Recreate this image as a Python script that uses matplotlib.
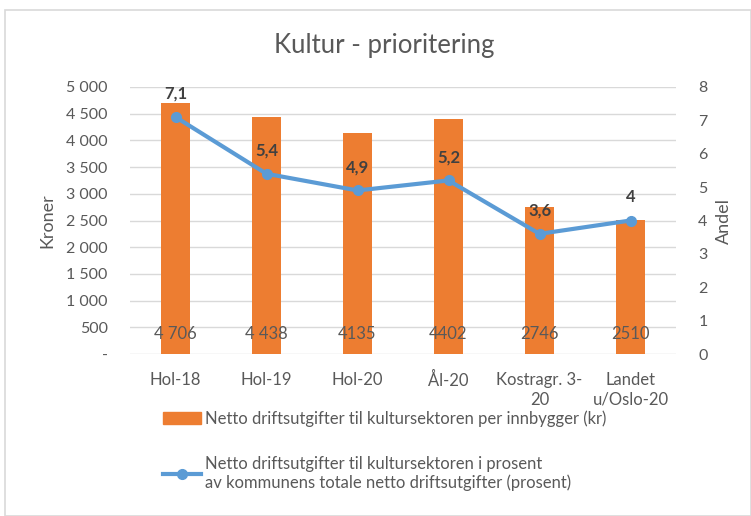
import matplotlib
matplotlib.use("Agg")
import matplotlib.pyplot as plt
from matplotlib.patches import Rectangle
from matplotlib.lines import Line2D
from matplotlib.ticker import FixedLocator, FuncFormatter

plt.rcParams['font.family'] = ['Lato', 'DejaVu Sans']

categories = ["Hol-18", "Hol-19", "Hol-20", "Ål-20", "Kostragr. 3-\n20", "Landet\nu/Oslo-20"]
kroner = [4706, 4438, 4135, 4402, 2746, 2510]
kroner_labels = ["4 706", "4 438", "4135", "4402", "2746", "2510"]
andel = [7.1, 5.4, 4.9, 5.2, 3.6, 4.0]
andel_labels = ["7,1", "5,4", "4,9", "5,2", "3,6", "4"]
left_ticks = list(range(0, 5001, 500))
right_ticks = list(range(0, 9))

bar_name = "Netto driftsutgifter til kultursektoren per innbygger (kr)"
line_name = "Netto driftsutgifter til kultursektoren i prosent\nav kommunens totale netto driftsutgifter (prosent)"

ORANGE = "#ED7D31"
BLUE = "#5B9BD5"
TXT = "#595959"
GRID = "#D9D9D9"

W, H = 751, 516
fig = plt.figure(figsize=(W / 100, H / 100), dpi=100)

# outer frame of the chart
fig.patches.append(Rectangle((5 / W, 0), (W - 5) / W, (H - 10) / H, transform=fig.transFigure,
                             fill=False, edgecolor=GRID, linewidth=1.2))

x0, x1 = 130, 676
y_top, y_bot = 87, 354
ax = fig.add_axes([x0 / W, 1 - y_bot / H, (x1 - x0) / W, (y_bot - y_top) / H])
ax2 = ax.twinx()

xs = list(range(len(categories)))
ax.bar(xs, kroner, width=0.31, color=ORANGE, zorder=2)
ax.set_xlim(-0.5, len(categories) - 0.5)
ax.set_ylim(0, 5000)
ax.yaxis.set_major_locator(FixedLocator(left_ticks))

def kr_fmt(v, pos):
    if v == 0:
        return "-"
    return f"{int(v):,}".replace(",", " ")

ax.yaxis.set_major_formatter(FuncFormatter(kr_fmt))
ax.grid(axis='y', color=GRID, linewidth=1, zorder=0)
ax.set_axisbelow(True)
for s in ax.spines.values():
    s.set_visible(False)
for s in ax2.spines.values():
    s.set_visible(False)
ax.tick_params(axis='y', length=0, pad=16, labelsize=11.5, labelcolor=TXT)
ax.tick_params(axis='x', length=0, pad=13, labelsize=12, labelcolor=TXT)
ax.set_xticks(xs)
ax.set_xticklabels(categories, linespacing=1.3)
ax.set_ylabel("Kroner", fontsize=13, color=TXT, labelpad=8)

for x, v, lab in zip(xs, kroner, kroner_labels):
    ax.text(x, 370, lab, ha='center', va='center', fontsize=12, color=TXT, zorder=3)

ax2.plot(xs, andel, color=BLUE, linewidth=3, marker='o', markersize=7, zorder=4)
ax2.set_ylim(0, 8)
ax2.yaxis.set_major_locator(FixedLocator(right_ticks))
ax2.tick_params(axis='y', length=0, pad=16, labelsize=11.5, labelcolor=TXT)
ax2.set_ylabel("Andel", fontsize=13, color=TXT, labelpad=6)
for x, v, lab in zip(xs, andel, andel_labels):
    ax2.annotate(lab, (x, v), xytext=(0, 11), textcoords='offset points', ha='center',
                 va='bottom', fontsize=12, fontweight='bold', color="#404040")

fig.text(384 / W, 1 - 45 / H, "Kultur - prioritering", ha='center', va='center',
         fontsize=18.5, color=TXT)

# legend
handles = [Rectangle((0, 0), 1, 1, color=ORANGE),
           Line2D([0], [0], color=BLUE, linewidth=3, marker='o', markersize=7)]
leg = fig.legend(handles, [bar_name, line_name], loc='upper left',
                 bbox_to_anchor=(148 / W, 1 - 395 / H), frameon=False, fontsize=12,
                 labelcolor=TXT, handlelength=2.3, handletextpad=0.2, labelspacing=1.75)

fig.savefig("out.png", dpi=100)
